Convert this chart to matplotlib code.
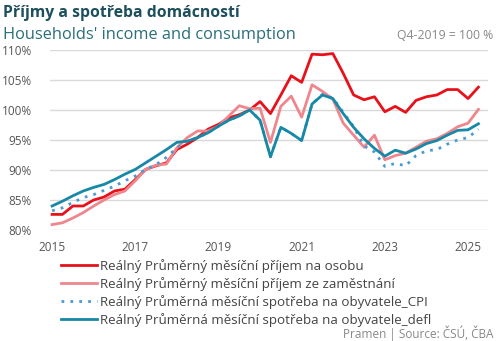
import matplotlib
matplotlib.use('Agg')
import matplotlib.pyplot as plt
import numpy as np

plt.rcParams['font.family'] = ['Open Sans', 'DejaVu Sans']

# quarterly data, 2015Q1 .. 2025Q2, index Q4-2019 = 100
start_year = 2015
prijem_osoba = [82.6, 82.6, 84.0, 84.0, 85.0, 85.5, 86.5, 86.8, 88.4, 90.1,
                90.7, 91.2, 93.4, 94.3, 95.4, 96.8, 97.6, 98.7, 99.2, 100.0,
                101.4, 99.4, 102.5, 105.7, 104.6, 109.3, 109.2, 109.4, 106.1, 102.5,
                101.7, 102.2, 99.7, 100.6, 99.6, 101.6, 102.2, 102.5, 103.4, 103.4,
                101.9, 103.8]
prijem_zam = [80.9, 81.2, 82.0, 82.9, 84.0, 85.0, 85.9, 86.5, 88.2, 90.1,
              90.8, 91.0, 93.7, 95.4, 96.5, 96.5, 97.3, 99.0, 100.7, 100.2,
              100.3, 94.6, 100.6, 102.3, 98.8, 104.2, 103.1, 101.8, 97.8, 95.8,
              93.8, 95.8, 91.7, 92.4, 92.8, 93.8, 94.8, 95.2, 96.1, 97.2,
              97.8, 100.1]
spotreba_cpi = [83.2, 83.7, 84.6, 85.4, 85.9, 86.6, 87.3, 88.2, 89.0, 90.1,
                90.9, 92.1, 93.7, 94.8, 95.4, 96.2, 97.3, 98.3, 99.0, 100.0,
                98.3, 92.2, 97.1, 96.1, 94.9, 101.0, 102.6, 102.0, 99.6, 97.2,
                94.0, 93.0, 90.6, 91.1, 90.7, 92.4, 93.2, 93.4, 94.3, 95.0,
                95.4, 96.8]
spotreba_defl = [84.0, 84.8, 85.7, 86.5, 87.1, 87.6, 88.4, 89.3, 90.1, 91.2,
                 92.3, 93.4, 94.6, 94.8, 95.4, 96.2, 97.3, 98.3, 99.0, 100.0,
                 98.3, 92.2, 97.1, 96.1, 94.9, 101.0, 102.5, 101.9, 99.4, 97.1,
                 95.2, 93.6, 92.3, 93.3, 92.8, 93.5, 94.4, 94.9, 95.8, 96.6,
                 96.7, 97.7]
labels = ["Reálný Průměrný měsíční příjem na osobu",
          "Reálný Průměrný měsíční příjem ze zaměstnání",
          "Reálný Průměrná měsíční spotřeba na obyvatele_CPI",
          "Reálný Průměrná měsíční spotřeba na obyvatele_defl"]
year_ticks = [2015, 2017, 2019, 2021, 2023, 2025]
y_ticks = [80, 85, 90, 95, 100, 105, 110]

x = start_year + np.arange(len(prijem_osoba)) / 4

fig = plt.figure(figsize=(5, 3.41), dpi=100)
ax = fig.add_axes([0.10, 0.3255, 0.876, 0.528])

ax.plot(x, prijem_osoba, color='#e8101a', lw=2.0, label=labels[0])
ax.plot(x, prijem_zam, color='#f0868d', lw=2.0, label=labels[1])
ax.plot(x, spotreba_cpi, color='#4a9ad6', lw=2.0, ls=(0, (1, 2.2)), label=labels[2])
ax.plot(x, spotreba_defl, color='#1788a5', lw=2.0, label=labels[3])

ax.set_xlim(2014.95, 2025.48)
ax.set_ylim(80, 110)
ax.set_yticks(y_ticks)
ax.set_yticklabels([f"{v}%" for v in y_ticks])
ax.set_xticks(year_ticks)
ax.set_xticklabels([str(y) for y in year_ticks])
ax.tick_params(axis='both', length=0, colors='#555555', labelsize=8.5)
ax.tick_params(axis='y', pad=13)
ax.tick_params(axis='x', pad=8)
ax.grid(axis='y', color='#d9d9d9', lw=1)
ax.set_axisbelow(True)
for s in ax.spines.values():
    s.set_visible(False)

leg = ax.legend(loc='upper left', bbox_to_anchor=(0.122, 0.24), bbox_transform=fig.transFigure,
                frameon=False, fontsize=9.6, handlelength=2.7, handletextpad=0.2,
                labelspacing=0.3, borderaxespad=0, borderpad=0)
for t in leg.get_texts():
    t.set_color('#444444')

fig.text(0.006, 0.962, "Příjmy a spotřeba domácností", fontsize=11.3, fontweight='bold',
         color='#1d4f5c', va='center')
fig.text(0.006, 0.898, "Households' income and consumption", fontsize=11.8,
         color='#2a6f7a', va='center')
fig.text(0.986, 0.895, "Q4-2019 = 100 %", fontsize=8.8, color='#888888', ha='right', va='center')
fig.text(0.986, 0.0, "Pramen | Source: ČSÚ, ČBA", fontsize=8.5, color='#888888',
         ha='right', va='bottom')

fig.savefig('out.png', dpi=100)
